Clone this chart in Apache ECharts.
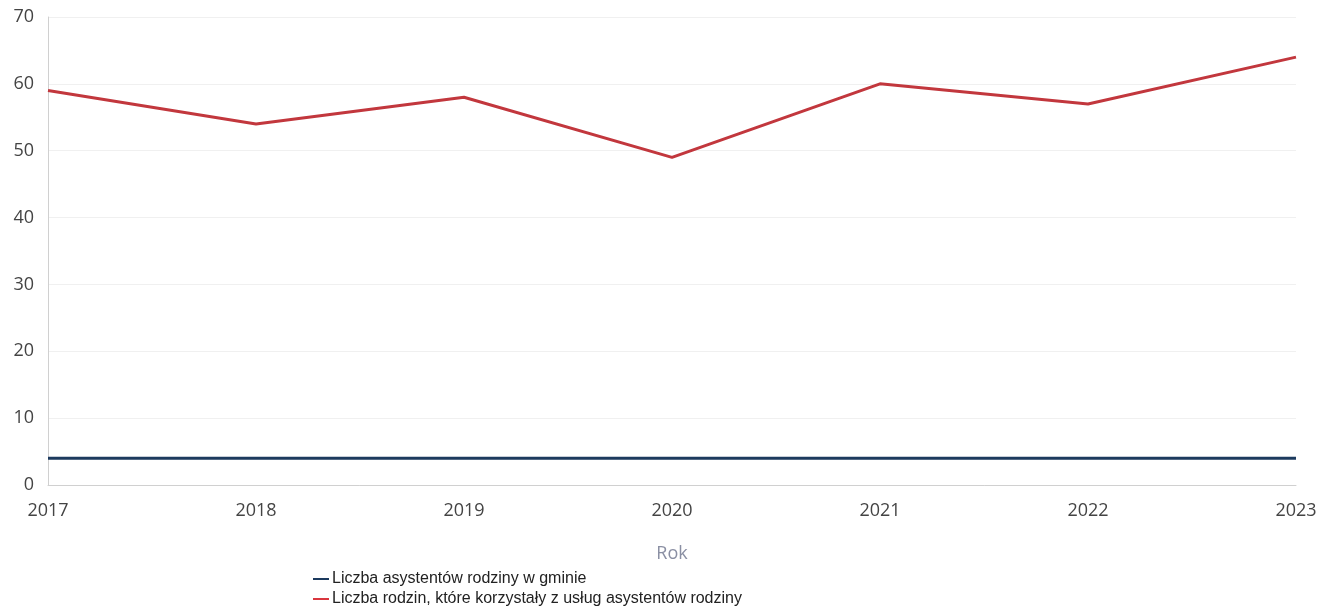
<!DOCTYPE html>
<html><head><meta charset="utf-8">
<script src="https://cdn.jsdelivr.net/npm/echarts@6/dist/echarts.min.js"></script>
<style>html,body{margin:0;padding:0;background:#fff}#c{width:1330px;height:616px}</style>
</head><body><div id="c"></div>
<script>
const years = ['2017','2018','2019','2020','2021','2022','2023'];
const assistants = [4,4,4,4,4,4,4];
const families = [59,54,58,49,60,57,64];
const yTicks = [0,10,20,30,40,50,60,70];
const seriesNames = ['Liczba asystentów rodziny w gminie','Liczba rodzin, które korzystały z usług asystentów rodziny'];
const xTitle = 'Rok';

const chart = echarts.init(document.getElementById('c'));
chart.setOption({
  animation:false,
  grid:{left:48,right:34,top:17,bottom:131},
  xAxis:{type:'category',data:years,boundaryGap:false,
    name:xTitle,nameLocation:'middle',nameGap:60,
    nameTextStyle:{color:'#8a8fa3',fontSize:18,fontFamily:'Open Sans'},
    axisLine:{lineStyle:{color:'#d0d0d0'}},axisTick:{show:false},
    axisLabel:{color:'#444',fontSize:18,fontFamily:'Open Sans',margin:17}},
  yAxis:{type:'value',min:yTicks[0],max:yTicks[yTicks.length-1],interval:10,
    axisLine:{show:true,lineStyle:{color:'#d0d0d0'}},
    splitLine:{lineStyle:{color:'#f0f0f0'}},
    axisLabel:{color:'#444',fontSize:18,fontFamily:'Open Sans',margin:14,verticalAlign:'middle'}},
  legend:{orient:'vertical',left:308,top:566,itemGap:4,itemWidth:16,itemHeight:2,
    icon:'rect',
    textStyle:{fontFamily:'Liberation Sans',fontSize:16,color:'#222',padding:[0,0,0,-2]},
    data:seriesNames},
  series:[
    {name:seriesNames[0],type:'line',data:assistants,showSymbol:false,symbol:'none',
     lineStyle:{color:'#1c3a5e',width:3},itemStyle:{color:'#1c3a5e'}},
    {name:seriesNames[1],type:'line',data:families,showSymbol:false,symbol:'none',
     lineStyle:{color:'#c2373d',width:3},itemStyle:{color:'#d9363e'}}
  ]
});
</script></body></html>
